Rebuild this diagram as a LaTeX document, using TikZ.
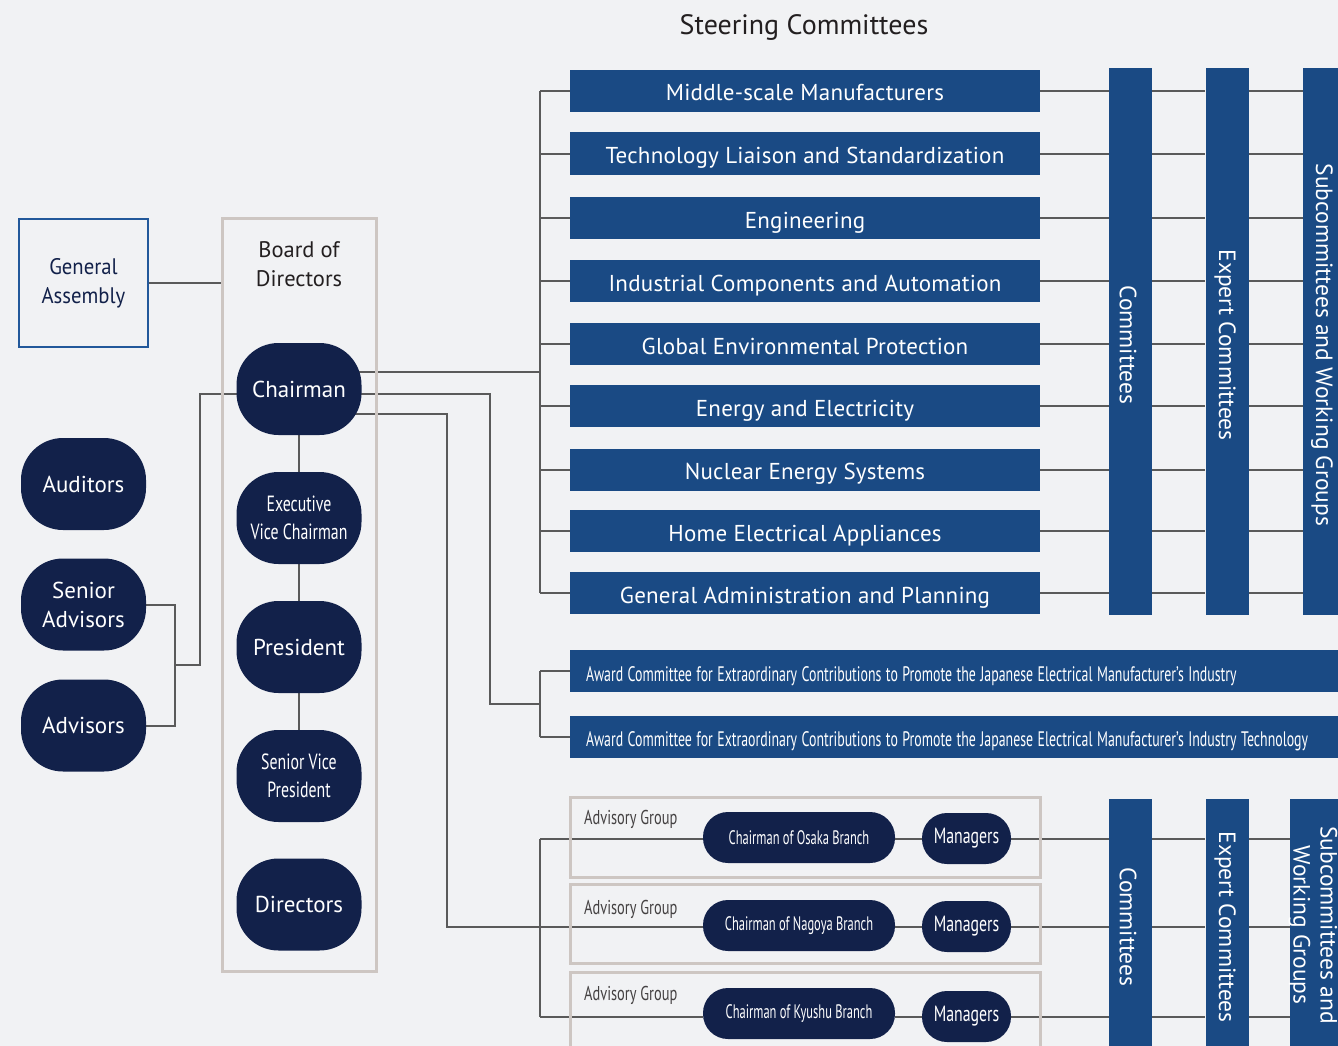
\documentclass[tikz,border=0pt]{standalone}
\usepackage{fontspec}
\setmainfont{PT Sans}
\newfontfamily\condf[FakeStretch=0.72]{PT Sans}
\newfontfamily\awf[FakeStretch=0.64]{PT Sans}
\newfontfamily\awtf[FakeStretch=0.66]{PT Sans}
\newfontfamily\semif[FakeStretch=0.92]{PT Sans}
\newfontfamily\barf[LetterSpace=1]{PT Sans}
\usetikzlibrary{calc}
\definecolor{bg}{HTML}{F1F2F4}
\definecolor{navy}{HTML}{12214A}
\definecolor{barblue}{HTML}{1A4A84}
\definecolor{lineg}{HTML}{5A5A5A}
\definecolor{boxg}{HTML}{CDC6C2}
\definecolor{gablue}{HTML}{22589A}
\definecolor{txt}{HTML}{231F20}
\pgfdeclarelayer{back}\pgfdeclarelayer{lines}
\pgfsetlayers{back,lines,main}
\begin{document}
\begin{tikzpicture}[x=1pt,y=-1pt,
 conn/.style={draw=lineg, line width=2pt},
 pill/.style={fill=navy, rounded corners=42pt, minimum width=125pt, minimum height=92pt, inner sep=0pt, text=white, align=center, font=\fontsize{23}{29}\selectfont},
 cpill/.style={pill, font=\condf\fontsize{22}{28}\selectfont},
 sbar/.style={fill=barblue, minimum width=470pt, minimum height=42pt, inner sep=0pt, text height=20pt, text depth=0pt, text=white, font=\barf\fontsize{23}{25}\selectfont},
 abar/.style={fill=barblue, minimum height=42pt, text width=748pt, text height=20pt, text depth=0pt, inner xsep=16pt, inner ysep=0pt, align=left, anchor=west, text=white, font=\awtf\fontsize{21}{24}\selectfont},
 vbar/.style={fill=barblue, inner sep=0pt, minimum width=43pt},
 vlab/.style={rotate=-90, text=white, align=center, inner sep=0pt, font=\fontsize{23.5}{27}\selectfont},
 gbox/.style={draw=boxg, line width=3pt, inner sep=0pt},
 bpill/.style={fill=navy, rounded corners=25pt, minimum height=51pt, inner sep=0pt, text=white},
 aglab/.style={anchor=west, inner sep=0pt, text=txt!85, font=\condf\fontsize{20}{24}\selectfont},
]
\useasboundingbox (0,0) rectangle (1338,1046);
\begin{pgfonlayer}{back}
\fill[bg] (0,0) rectangle (1338,1046);
\end{pgfonlayer}

% title
\node[text=txt, font=\fontsize{28}{32}\selectfont] (title) at (804,28) {Steering Committees};

% left column
\node[draw=gablue, line width=2.5pt, minimum width=129pt, minimum height=128pt, inner sep=0pt, align=center, text=navy, font=\semif\fontsize{22.5}{29}\selectfont] (ga) at (83.5,283) {General\\Assembly};
\node[gbox, minimum width=154pt, minimum height=753pt] (board) at (299,594.5) {};
\node[text=txt, align=center, font=\fontsize{22.5}{29}\selectfont] (boardl) at (299,264) {Board of\\Directors};

\node[pill] (chair) at (299,389) {Chairman};
\node[cpill] (evc) at (299,518) {Executive\\Vice Chairman};
\node[pill] (pres) at (299,647) {President};
\node[cpill] (svp) at (299,776) {Senior Vice\\President};
\node[pill] (dirs) at (299,904.5) {Directors};

\node[pill] (aud) at (83.5,484) {Auditors};
\node[pill] (sadv) at (83.5,604.5) {Senior\\Advisors};
\node[pill] (adv) at (83.5,725.5) {Advisors};

% steering committees
\foreach \yy/\tt [count=\i] in {91/Middle-scale Manufacturers,153.5/Technology Liaison and Standardization,218/Engineering,281/Industrial Components and Automation,344/Global Environmental Protection,406/Energy and Electricity,469.5/Nuclear Energy Systems,531/Home Electrical Appliances,593/General Administration and Planning}
  \node[sbar] (sc\i) at (805,\yy) {\tt};

\node[vbar, minimum height=547pt] (comm) at (1130.5,341.5) {};
\node[vbar, minimum height=547pt] (expc) at (1227,341.5) {};
\node[vbar, minimum height=547pt] (subc) at (1324.5,341.5) {};
\node[vlab] (comml) at (1128,345) {Committees};
\node[vlab] (expcl) at (1225,345) {Expert Committees};
\node[vlab] (subcl) at (1322,345) {Subcommittees and Working Groups};

% award committees
\node[abar] (aw1) at (570,671) {\spaceskip=4.5pt\relax Award Committee for Extraordinary Contributions to Promote the Japanese Electrical Manufacturer’s Industry};
\node[abar] (aw2) at (570,736.5) {\spaceskip=4.5pt\relax Award Committee for Extraordinary Contributions to Promote the Japanese Electrical Manufacturer’s Industry Technology};

% advisory groups
\node[gbox, minimum width=470pt, minimum height=80pt] (box1) at (805,837) {};
\node[gbox, minimum width=470pt, minimum height=79pt] (box2) at (805,923.5) {};
\node[gbox, minimum width=470pt, minimum height=96pt] (box3) at (805,1020) {};
\node[aglab] (ag1) at (584,819) {Advisory Group};
\node[aglab] (ag2) at (584,909) {Advisory Group};
\node[aglab] (ag3) at (584,995) {Advisory Group};

\node[bpill, minimum width=192pt, font=\awf\fontsize{19.5}{23}\selectfont] (osa) at (799,837.5) {Chairman of Osaka Branch};
\node[bpill, minimum width=192pt, font=\awf\fontsize{19.5}{23}\selectfont] (nag) at (799,925.5) {Chairman of Nagoya Branch};
\node[bpill, minimum width=192pt, font=\awf\fontsize{19.5}{23}\selectfont] (kyu) at (799,1013.5) {Chairman of Kyushu Branch};
\node[bpill, minimum width=89pt, font=\condf\fontsize{22}{26}\selectfont] (mo) at (966.5,838.5) {Managers};
\node[bpill, minimum width=89pt, font=\condf\fontsize{22}{26}\selectfont] (mn) at (966.5,926.5) {Managers};
\node[bpill, minimum width=89pt, font=\condf\fontsize{22}{26}\selectfont] (mk) at (966.5,1016.5) {Managers};

\node[vbar, minimum height=262pt] (bcomm) at (1130.5,930) {};
\node[vbar, minimum height=262pt] (bexp) at (1227,930) {};
\node[vbar, minimum width=56pt, minimum height=262pt] (bsub) at (1318,930) {};
\node[vlab] (bcomml) at (1128,927) {Committees};
\node[vlab] (bexpl) at (1225,927) {Expert Committees};
\node[vlab] (bsubl) at (1313,925) {Subcommittees and\\Working Groups};

\coordinate (spine) at (540,0);
\coordinate (ajog) at (490,0);
\coordinate (gjog) at (447,0);
\coordinate (lj) at (175,665);
\coordinate (lk) at (200,665);

\begin{pgfonlayer}{lines}
% general assembly to board
\draw[conn] (ga.east) -- (ga.east -| board.west);
% board chain
\draw[conn] (chair) -- (evc) -- (pres) -- (svp);
% advisors
\draw[conn] (sadv.east) -| (lj) |- (adv.east);
\draw[conn] (lj) -- (lk) |- ([yshift=-5pt]chair.center);
% chairman to steering spine
\draw[conn] ([yshift=17pt]chair.center) -- ([yshift=17pt]chair.center -| spine);
\draw[conn] (sc1.west -| spine) -- (sc9.west -| spine);
\foreach \i in {1,...,9}{
  \draw[conn] (sc\i.west) -- (sc\i.west -| spine);
  \draw[conn] (sc\i.east) -- (sc\i.east -| comm.west);
  \draw[conn] (comm.east |- sc\i.east) -- (expc.west |- sc\i.east);
  \draw[conn] (expc.east |- sc\i.east) -- (subc.west |- sc\i.east);
}
% chairman to award
\draw[conn] ([yshift=-5pt]chair.center) -| (ajog |- 0,704) -- (spine |- 0,704);
\draw[conn] (aw1.west -| spine) -- (aw2.west -| spine);
\draw[conn] (aw1.west) -- (aw1.west -| spine);
\draw[conn] (aw2.west) -- (aw2.west -| spine);
% chairman to advisory groups
\draw[conn] ([yshift=-25pt]chair.center) -| (gjog |- mn.west) -- (nag.west |- mn.west);
\draw[conn] (spine |- mo.west) -- (spine |- mk.west);
\foreach \c/\m in {osa/mo,nag/mn,kyu/mk}{
  \draw[conn] (spine |- \m.west) -- (\c.west |- \m.west);
  \draw[conn] (\c.east |- \m.west) -- (\m.west);
  \draw[conn] (\m.east) -- (\m.east -| bcomm.west);
  \draw[conn] (bcomm.east |- \m.east) -- (bexp.west |- \m.east);
  \draw[conn] (bexp.east |- \m.east) -- (bsub.west |- \m.east);
}
\end{pgfonlayer}
\end{tikzpicture}
\end{document}
